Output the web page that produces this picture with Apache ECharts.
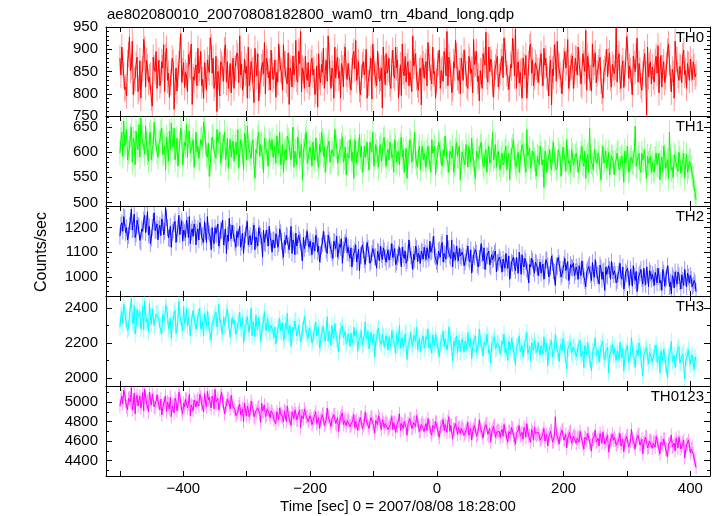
<!DOCTYPE html>
<html>
<head>
<meta charset="utf-8">
<script src="https://cdn.jsdelivr.net/npm/echarts@6/dist/echarts.min.js"></script>
<style>
html,body{margin:0;padding:0;background:#fff;}
#chart{width:717px;height:516px;}
</style>
</head>
<body>
<div id="chart"></div>
<script>
// ---- data ----
// "A" samples: every 3 s from -500 s; "B" samples: every 3 s from -498.5 s (rows = 60 s)
const T_START = -500;
const T_STEP = 3;
const T_OFFSET_B = 1.5;

const TH0 = [
880,905,842,815,870,928,860,798,835,882,812,790,856,900,875,826,842,772,858,895,
848,818,872,910,884,830,792,846,870,825,806,868,935,852,814,840,888,862,776,830,
865,902,856,818,790,842,876,848,905,880,822,760,836,872,855,898,826,812,868,845,
812,858,884,930,866,824,846,790,818,872,855,902,840,784,828,870,915,880,836,808,
862,840,792,826,878,850,910,868,822,776,848,885,856,832,895,940,858,812,842,870,
825,880,855,806,770,838,866,902,850,828,884,812,846,905,872,835,790,858,882,845,
868,826,852,895,920,848,810,836,872,858,790,824,880,912,846,818,862,835,768,856,
890,855,822,868,842,905,876,828,796,850,884,862,818,845,930,872,836,808,858,880,
835,872,915,860,822,845,790,866,898,852,828,874,940,882,846,812,858,886,830,800,
862,898,845,812,876,855,922,868,828,784,850,890,864,838,905,878,822,846,872,815,
850,884,925,870,836,812,858,895,946,866,824,852,880,842,790,868,912,876,838,860,
826,870,845,902,880,832,856,775,840,884,918,862,830,848,895,870,812,858,885,842,
878,905,852,818,868,942,884,836,806,860,892,846,872,828,790,856,900,874,835,866,
845,948,880,832,858,814,872,905,862,826,884,850,925,868,818,846,890,752,838,872,
860,826,884,908,852,815,872,838,895,870,804,846,918,876,830,858,885,842,812,866,
878,832,860,846
];
const TH0_B = [
842,868,810,795,888,852,918,830,866,805,874,845,922,815,860,838,790,882,850,812,
875,830,858,805,902,846,826,880,765,858,842,898,826,870,848,805,866,912,838,852,
818,846,895,832,870,808,858,926,846,812,884,850,795,866,828,910,872,835,802,880,
856,892,825,842,808,878,862,905,834,852,780,866,890,822,860,845,800,872,850,898,
832,876,848,912,855,808,866,830,892,858,815,842,920,826,868,804,850,884,830,815,
870,842,798,862,890,825,848,812,875,930,846,858,790,835,882,850,868,815,905,832,
842,808,885,856,830,872,798,864,842,900,825,856,788,870,842,896,828,858,905,820,
846,880,812,898,835,858,790,865,912,840,826,872,848,805,862,890,820,852,775,868,
862,818,880,836,905,850,828,870,812,856,895,840,818,866,802,872,920,836,852,880,
830,872,818,884,845,802,866,895,840,852,812,875,938,826,850,870,792,860,884,838,
872,836,898,845,810,866,925,840,812,872,848,790,862,886,830,905,846,818,870,852,
852,890,818,864,838,795,876,855,910,828,866,842,800,875,858,922,835,862,812,880,
842,868,822,890,850,808,862,836,912,870,825,858,882,806,848,870,838,892,815,858,
860,826,890,812,874,846,928,835,852,798,868,885,826,852,808,872,845,905,864,822,
838,872,846,802,886,858,825,866,912,836,855,790,878,842,862,825,898,852,868,830,
855,872,838
];

const TH1 = [
598,640,662,620,585,608,650,628,575,612,655,668,630,596,618,582,640,605,660,625,
590,622,648,600,565,615,642,658,610,585,628,600,648,575,620,655,632,598,612,570,
640,612,585,628,660,618,590,552,605,632,600,645,622,578,610,640,595,568,625,610,
582,620,645,598,612,565,630,652,604,588,625,548,598,640,615,590,628,605,572,618,
625,600,578,612,640,590,560,605,632,615,585,650,602,575,620,598,545,612,640,588,
610,572,598,628,585,615,640,592,560,605,622,580,598,645,610,575,602,630,588,555,
600,625,582,548,610,598,635,612,575,590,620,565,605,640,588,602,570,615,595,630,
572,605,620,590,560,612,598,575,630,605,585,548,600,618,592,640,578,600,565,612,
598,570,612,588,625,600,555,590,615,580,605,632,585,560,598,612,575,620,590,545,
600,582,615,570,595,628,585,548,605,590,620,575,598,560,612,585,640,592,570,602,
565,598,580,612,590,545,605,625,578,592,560,600,615,575,645,590,568,602,585,552,
590,612,575,530,598,582,605,565,620,588,570,598,552,610,585,625,578,560,595,572,
598,560,585,612,572,548,595,648,580,565,602,578,590,545,612,585,568,600,575,590,
555,585,600,570,592,540,578,612,565,590,580,652,570,598,560,585,605,548,578,592,
580,560,598,572,545,590,612,568,585,640,565,550,592,575,600,558,582,548,595,570,
585,555,530,505
];
const TH1_B = [
625,592,612,645,600,632,580,620,642,605,590,628,612,652,598,635,585,615,628,600,
618,640,595,612,630,582,605,625,648,600,572,618,635,598,612,590,642,605,625,598,
600,588,625,612,645,595,618,575,630,602,588,620,640,595,612,585,628,605,590,622,
610,595,568,625,600,638,585,612,598,620,575,605,630,592,618,560,612,598,625,605,
590,612,632,598,575,615,600,585,625,598,612,570,605,630,588,615,602,625,578,600,
598,620,585,605,570,600,625,612,588,615,580,605,592,625,578,602,615,580,610,598,
588,610,600,625,578,605,590,560,612,598,585,620,600,572,615,590,608,582,625,592,
600,585,610,595,625,580,602,615,590,560,608,592,625,580,605,590,570,612,598,585,
585,602,590,560,598,612,585,620,600,572,592,610,578,602,588,560,605,592,612,580,
592,575,600,612,580,595,560,602,588,612,590,570,605,595,578,602,585,615,598,575,
590,575,602,565,598,585,612,590,570,600,582,615,595,560,592,608,580,598,570,592,
575,598,585,602,560,590,578,600,585,565,605,592,578,598,562,590,582,605,575,592,
585,570,598,578,602,588,560,590,575,605,582,598,565,592,578,602,585,555,592,580,
580,598,565,588,575,602,590,560,585,578,600,572,590,565,598,582,570,592,585,560,
565,588,575,598,580,560,592,575,548,585,570,595,578,562,588,572,598,575,560,582,
570,548,520
];

const TH2 = [
1165,1220,1245,1180,1150,1210,1275,1195,1160,1230,1205,1140,1185,1250,1215,1170,1135,1200,1260,1190,
1150,1210,1235,1170,1282,1200,1155,1120,1190,1225,1175,1250,1205,1145,1180,1230,1160,1135,1195,1215,
1130,1195,1220,1160,1140,1185,1245,1175,1110,1150,1200,1170,1125,1190,1230,1160,1095,1145,1180,1210,
1175,1120,1160,1205,1140,1095,1170,1225,1155,1130,1185,1110,1150,1200,1165,1080,1140,1190,1125,1160,
1100,1150,1175,1120,1195,1145,1080,1130,1165,1110,1205,1150,1090,1125,1170,1140,1065,1115,1160,1135,
1145,1090,1130,1170,1100,1060,1125,1185,1135,1095,1150,1110,1075,1140,1165,1105,1120,1055,1130,1160,
1120,1075,1040,1095,1130,1060,1025,1085,1110,1050,1140,1090,1065,1115,1080,1035,1100,1125,1070,1105,
1060,1110,1075,1135,1095,1050,1080,1120,1040,1090,1105,1065,1150,1085,1030,1070,1115,1095,1055,1100,
1120,1070,1095,1145,1105,1165,1080,1050,1110,1130,1060,1090,1170,1115,1075,1040,1095,1125,1065,1085,
1100,1045,1080,1125,1060,1015,1090,1110,1050,1075,1135,1065,1030,1085,1105,1040,1070,1095,1020,1060,
1070,1020,1055,1095,1035,990,1060,1080,1025,1045,1100,1010,1050,1075,1030,975,1040,1065,1015,1055,
1005,1060,1035,990,1070,1045,1010,1085,1025,965,1040,1055,1000,1030,1075,1020,985,1050,1035,1005,
1040,990,1025,1065,1000,960,1030,1050,985,1015,1070,1005,970,1035,1020,945,1010,1045,990,1025,
1025,975,1010,1055,990,950,1020,1035,965,1000,1045,985,940,1005,1030,970,995,1040,960,1015,
1010,965,1000,1035,975,945,1015,990,1045,960,930,995,1020,970,1005,950,985,1030,960,1000,
1005,960,985,940
];
const TH2_B = [
1210,1185,1240,1200,1168,1225,1190,1255,1175,1210,1148,1195,1232,1180,1265,1205,1158,1225,1188,1215,
1195,1168,1220,1185,1240,1158,1205,1180,1215,1140,1198,1172,1228,1190,1160,1210,1245,1182,1165,1200,
1180,1150,1205,1168,1225,1140,1185,1162,1200,1135,1175,1215,1150,1188,1130,1195,1170,1238,1155,1178,
1140,1185,1158,1120,1178,1150,1198,1130,1168,1145,1210,1162,1125,1175,1148,1190,1135,1160,1205,1145,
1150,1118,1165,1135,1180,1105,1148,1170,1128,1155,1095,1140,1178,1125,1150,1098,1160,1132,1185,1120,
1118,1140,1105,1158,1125,1090,1135,1150,1108,1170,1128,1098,1145,1115,1080,1132,1155,1110,1140,1098,
1095,1118,1082,1105,1060,1112,1088,1130,1070,1098,1115,1055,1095,1120,1082,1105,1065,1090,1118,1078,
1090,1068,1102,1078,1115,1060,1095,1082,1120,1075,1055,1098,1110,1070,1092,1125,1062,1085,1105,1072,
1095,1118,1075,1100,1130,1088,1062,1105,1080,1140,1095,1072,1110,1085,1150,1100,1068,1092,1115,1078,
1085,1060,1098,1072,1110,1055,1082,1098,1040,1078,1092,1118,1062,1085,1048,1090,1075,1105,1058,1080,
1050,1072,1035,1060,1085,1028,1055,1042,1078,1015,1058,1090,1040,1062,1020,1050,1075,1035,1060,1040,
1038,1015,1052,1025,1068,1000,1040,1058,1018,1045,1080,1030,1012,1050,1025,1062,1002,1038,1055,1020,
1022,1045,1005,1030,985,1020,1042,1010,1058,998,1028,1012,1048,990,1025,1040,1002,1030,1062,1008,
1010,985,1025,1000,1040,975,1012,990,1030,962,1005,1022,985,1015,992,1035,968,1008,1025,990,
995,1018,975,1002,985,1030,962,998,1012,978,1005,955,992,1020,980,1008,965,995,1015,975,
990,965,975
];

const TH3 = [
2290,2380,2420,2330,2270,2360,2455,2310,2250,2390,2345,2280,2410,2440,2320,2265,2350,2395,2300,2365,
2370,2290,2250,2340,2415,2360,2300,2225,2330,2385,2280,2440,2345,2270,2310,2395,2350,2240,2320,2375,
2280,2350,2400,2300,2240,2330,2380,2265,2215,2310,2360,2290,2420,2335,2250,2300,2370,2325,2230,2345,
2330,2250,2310,2375,2280,2200,2300,2350,2260,2400,2320,2235,2290,2345,2210,2305,2380,2270,2315,2255,
2300,2230,2195,2280,2340,2260,2215,2310,2370,2250,2180,2290,2325,2240,2300,2205,2275,2350,2260,2225,
2280,2200,2260,2320,2230,2170,2250,2295,2210,2350,2265,2185,2240,2310,2220,2150,2270,2300,2235,2195,
2250,2180,2215,2290,2240,2150,2210,2270,2195,2320,2235,2165,2260,2200,2120,2230,2285,2205,2250,2175,
2240,2160,2200,2270,2225,2140,2190,2300,2215,2170,2250,2105,2205,2260,2180,2235,2290,2195,2150,2220,
2170,2235,2280,2200,2140,2215,2250,2185,2120,2205,2265,2225,2160,2290,2210,2095,2180,2240,2200,2150,
2220,2150,2195,2260,2175,2110,2205,2240,2160,2280,2190,2125,2215,2250,2140,2085,2200,2235,2170,2195,
2140,2210,2250,2170,2100,2190,2225,2150,2075,2185,2240,2160,2120,2205,2260,2155,2095,2180,2215,2145,
2200,2130,2165,2235,2150,2070,2180,2215,2120,2250,2160,2095,2190,2225,2140,2050,2170,2205,2135,2180,
2120,2180,2215,2140,2060,2160,2200,2110,2040,2150,2230,2130,2090,2175,2210,2100,2155,2030,2145,2190,
2170,2100,2140,2205,2115,2040,2150,2185,2090,2230,2130,2060,2160,2200,2110,2010,2125,2175,2080,2145,
2090,2150,2190,2110,2030,2130,2165,2075,2000,2120,2210,2100,2060,2145,2180,2085,2135,1995,2115,2160,
2080,2130,2050,2095
];
const TH3_B = [
2355,2310,2395,2340,2285,2370,2325,2415,2300,2350,2380,2315,2275,2360,2335,2425,2310,2345,2290,2370,
2335,2300,2365,2320,2395,2280,2340,2310,2372,2255,2330,2355,2300,2410,2325,2295,2350,2318,2385,2305,
2315,2345,2280,2320,2365,2295,2330,2250,2310,2340,2375,2290,2318,2268,2345,2300,2395,2325,2285,2310,
2300,2270,2325,2290,2345,2260,2315,2285,2330,2240,2295,2360,2275,2305,2250,2320,2290,2340,2265,2300,
2265,2290,2245,2300,2270,2315,2230,2280,2255,2300,2240,2275,2330,2260,2290,2225,2270,2305,2250,2285,
2250,2215,2270,2240,2290,2200,2255,2235,2275,2210,2245,2300,2225,2260,2195,2240,2280,2230,2265,2210,
2230,2255,2200,2240,2270,2210,2235,2185,2245,2225,2265,2195,2230,2250,2205,2270,2220,2190,2240,2215,
2205,2235,2180,2225,2190,2250,2215,2170,2230,2200,2260,2185,2220,2195,2245,2210,2160,2225,2200,2240,
2195,2220,2170,2210,2245,2185,2215,2160,2200,2230,2180,2225,2195,2250,2175,2210,2190,2140,2215,2200,
2185,2210,2160,2195,2230,2175,2200,2145,2190,2220,2170,2205,2185,2240,2160,2195,2215,2165,2200,2180,
2170,2195,2145,2180,2210,2160,2190,2135,2175,2205,2150,2185,2170,2220,2140,2180,2200,2155,2185,2165,
2160,2185,2135,2170,2200,2145,2175,2120,2165,2195,2140,2175,2155,2210,2130,2165,2190,2145,2175,2150,
2145,2170,2120,2155,2185,2130,2160,2105,2150,2180,2125,2160,2140,2195,2115,2150,2175,2130,2160,2135,
2130,2155,2105,2140,2170,2115,2145,2090,2135,2165,2110,2145,2125,2180,2100,2135,2160,2115,2145,2120,
2115,2140,2090,2125,2155,2100,2130,2075,2120,2150,2095,2130,2110,2165,2085,2120,2145,2100,2130,2105,
2110,2085,2120
];

const TH0123 = [
4960,5060,5120,5010,4920,5040,5150,4980,4880,5070,5020,4940,5100,5130,4990,4900,5030,5080,4950,5010,
5010,4920,4870,4980,5060,5000,4930,4850,4970,5040,4910,5100,4990,4880,4950,5030,4980,4860,4960,5020,
4950,5030,5080,4980,4900,5000,5110,5050,4940,5020,5130,4990,4920,5060,5010,4880,4970,5040,4930,4990,
4940,4860,4900,4980,4880,4800,4920,4960,4850,5010,4930,4830,4890,4950,4790,4910,4970,4870,4920,4840,
4900,4820,4780,4870,4940,4860,4800,4900,4960,4840,4760,4880,4920,4820,4890,4740,4860,4930,4850,4800,
4860,4770,4840,4900,4800,4730,4830,4880,4780,4940,4850,4750,4810,4870,4760,4700,4840,4890,4810,4760,
4830,4750,4790,4870,4800,4710,4780,4850,4760,4900,4820,4730,4840,4780,4680,4800,4860,4770,4820,4740,
4800,4720,4760,4850,4790,4690,4750,4880,4780,4730,4820,4660,4770,4830,4740,4800,4860,4760,4700,4790,
4700,4780,4830,4740,4660,4760,4800,4720,4640,4750,4820,4770,4690,4850,4760,4620,4720,4790,4740,4680,
4750,4660,4710,4790,4690,4610,4720,4770,4670,4820,4710,4630,4740,4780,4650,4590,4720,4760,4690,4710,
4640,4720,4770,4680,4590,4700,4740,4660,4570,4690,4760,4670,4620,4710,4780,4650,4590,4690,4740,4660,
4690,4610,4650,4730,4640,4550,4670,4710,4600,4850,4660,4570,4680,4720,4620,4530,4650,4700,4620,4660,
4580,4650,4700,4610,4520,4630,4680,4590,4500,4620,4710,4600,4550,4640,4690,4570,4620,4490,4610,4670,
4640,4560,4600,4680,4580,4490,4610,4660,4550,4720,4600,4520,4630,4670,4570,4470,4590,4650,4540,4610,
4530,4600,4650,4560,4470,4580,4620,4520,4440,4570,4660,4550,4500,4590,4640,4520,4580,4430,4560,4610,
4480,4540,4420,4330
];
const TH0123_B = [
5020,4980,5080,4950,5040,5000,4920,5090,5030,4960,5060,4990,4910,5050,5010,5100,4970,5030,4940,5070,
4990,5030,4940,5000,4900,4980,5050,4960,4890,5010,4970,5060,4920,4990,5030,4940,5080,4970,4910,5000,
5010,4960,5050,4990,5090,4950,5020,4980,5060,4930,5000,5040,4970,5100,4990,4940,5030,4980,5070,4960,
4920,4880,4950,4870,4930,4990,4860,4920,4890,4960,4850,4910,4940,4880,4990,4900,4850,4930,4880,4910,
4870,4840,4900,4820,4880,4850,4910,4800,4870,4840,4900,4830,4880,4810,4920,4860,4830,4890,4850,4820,
4830,4800,4860,4780,4840,4810,4870,4760,4820,4850,4790,4830,4870,4780,4840,4800,4860,4770,4830,4810,
4800,4760,4820,4740,4810,4780,4840,4730,4790,4820,4760,4800,4850,4750,4810,4770,4830,4720,4790,4780,
4780,4740,4800,4720,4790,4760,4810,4710,4770,4800,4740,4780,4830,4730,4790,4750,4810,4700,4770,4760,
4750,4710,4770,4690,4760,4730,4790,4680,4740,4770,4710,4750,4800,4700,4760,4720,4780,4670,4740,4730,
4720,4680,4740,4660,4730,4700,4760,4650,4710,4740,4680,4720,4770,4670,4730,4690,4750,4640,4710,4700,
4690,4650,4710,4630,4700,4670,4730,4620,4680,4710,4650,4690,4740,4640,4700,4660,4720,4610,4680,4670,
4660,4620,4680,4600,4670,4640,4700,4590,4650,4680,4620,4660,4710,4610,4670,4630,4690,4580,4650,4640,
4630,4590,4650,4570,4640,4610,4670,4560,4620,4650,4590,4630,4680,4580,4640,4600,4660,4550,4620,4610,
4610,4570,4630,4550,4620,4590,4650,4540,4600,4630,4570,4610,4660,4560,4620,4580,4640,4530,4600,4590,
4580,4540,4600,4520,4590,4560,4620,4510,4570,4600,4540,4580,4630,4530,4590,4550,4610,4500,4570,4560,
4520,4470,4400
];

// typical 1-sigma error bar half-length per panel (counts/sec)
const ERRORS = [29, 24, 34, 48, 70];

const SERIES_A = [TH0, TH1, TH2, TH3, TH0123];
const SERIES_B = [TH0_B, TH1_B, TH2_B, TH3_B, TH0123_B];
const PANEL_NAMES = ['TH0', 'TH1', 'TH2', 'TH3', 'TH0123'];
const COLORS = ['#ff0000', '#00ff00', '#0000ff', '#00ffff', '#ff00ff'];

// axis ranges / ticks
const X_MIN = -522, X_MAX = 431;
const X_TICK = 100, X_LABEL_STEP = 200;
const Y_MIN = [750, 493, 922, 1954, 4244];
const Y_MAX = [950, 672, 1288, 2468, 5164];
const Y_MAJOR = [50, 50, 100, 200, 200];
const Y_MINOR = [10, 10, 20, 100, 100];

const TITLE = 'ae802080010_20070808182800_wam0_trn_4band_long.qdp';
const X_NAME = 'Time [sec] 0 = 2007/08/08 18:28:00';
const Y_NAME = 'Counts/sec';

// ---- layout ----
const FONT = '"Liberation Sans", Arial, Helvetica, sans-serif';
const PLOT_LEFT = 106, PLOT_RIGHT = 7;
const TOPS = [27, 116, 206, 296, 386];
const HEIGHTS = [89, 90, 90, 90, 90];

function fmtNum(v) { return v < 0 ? '\u2212' + (-v) : String(v); }

// merge the two sample sets in time order
function buildPoints(a, b) {
  const pts = [];
  for (let k = 0; k < a.length; k++) {
    pts.push([T_START + k * T_STEP, a[k]]);
    if (k < b.length) pts.push([T_START + T_OFFSET_B + k * T_STEP, b[k]]);
  }
  return pts;
}

const chart = echarts.init(document.getElementById('chart'), null, {renderer: 'canvas'});

const grids = [], xAxes = [], yAxes = [], series = [], graphics = [];
const axisLineStyle = {color: '#000', width: 1};

for (let i = 0; i < 5; i++) {
  grids.push({left: PLOT_LEFT, right: PLOT_RIGHT, top: TOPS[i], height: HEIGHTS[i], containLabel: false});
  const isLast = i === 4;
  const xBase = {
    type: 'value', gridIndex: i, min: X_MIN, max: X_MAX,
    minInterval: X_TICK, maxInterval: X_TICK, splitNumber: 10,
    axisLine: {show: true, onZero: false, lineStyle: axisLineStyle},
    axisTick: {show: true, inside: true, length: 5, lineStyle: axisLineStyle},
    splitLine: {show: false}
  };
  xAxes.push(Object.assign({}, xBase, {
    position: 'bottom',
    axisLabel: {show: isLast, margin: 5, fontSize: 15, color: '#000', fontFamily: FONT,
      formatter: v => (Math.abs(v % X_LABEL_STEP) < 1e-6 ? fmtNum(v) : '')}
  }));
  xAxes.push(Object.assign({}, xBase, {position: 'top', axisLabel: {show: false}}));

  const yBase = {
    type: 'value', gridIndex: i, min: Y_MIN[i], max: Y_MAX[i], splitLine: {show: false}
  };
  yAxes.push(Object.assign({}, yBase, {
    position: 'left',
    minInterval: Y_MAJOR[i], maxInterval: Y_MAJOR[i], splitNumber: 5,
    axisLine: {show: true, onZero: false, lineStyle: axisLineStyle},
    axisTick: {show: true, inside: true, length: 6, lineStyle: axisLineStyle},
    axisLabel: {show: true, margin: 8, fontSize: 15, color: '#000', fontFamily: FONT,
      formatter: v => (Math.abs(v % Y_MAJOR[i]) < 1e-6 ? fmtNum(v) : '')}
  }));
  yAxes.push(Object.assign({}, yBase, {
    position: 'left',
    minInterval: Y_MINOR[i], maxInterval: Y_MINOR[i], splitNumber: 20,
    axisLine: {show: false, onZero: false},
    axisTick: {show: true, inside: true, length: 3, lineStyle: axisLineStyle},
    axisLabel: {show: false}
  }));
  yAxes.push(Object.assign({}, yBase, {
    position: 'right',
    minInterval: Y_MAJOR[i], maxInterval: Y_MAJOR[i], splitNumber: 5,
    axisLine: {show: true, onZero: false, lineStyle: axisLineStyle},
    axisTick: {show: true, inside: true, length: 6, lineStyle: axisLineStyle},
    axisLabel: {show: false}
  }));
  yAxes.push(Object.assign({}, yBase, {
    position: 'right',
    minInterval: Y_MINOR[i], maxInterval: Y_MINOR[i], splitNumber: 20,
    axisLine: {show: false, onZero: false},
    axisTick: {show: true, inside: true, length: 3, lineStyle: axisLineStyle},
    axisLabel: {show: false}
  }));

  const color = COLORS[i];
  const pts = buildPoints(SERIES_A[i], SERIES_B[i]);
  const errData = pts.map(p => [p[0], p[1], ERRORS[i]]);

  // light error bars
  series.push({
    type: 'custom', xAxisIndex: 2 * i, yAxisIndex: 4 * i, data: errData,
    silent: true, animation: false, clip: true, z: 1,
    renderItem: function (params, api) {
      const x = api.value(0), y = api.value(1), e = api.value(2);
      const p1 = api.coord([x, y - e]);
      const p2 = api.coord([x, y + e]);
      return {
        type: 'line',
        shape: {x1: p1[0], y1: p1[1], x2: p2[0], y2: p2[1]},
        style: {stroke: color, lineWidth: 1, opacity: 0.4}
      };
    }
  });
  series.push({
    type: 'line', xAxisIndex: 2 * i, yAxisIndex: 4 * i, data: pts,
    showSymbol: false, silent: true, animation: false, z: 2,
    lineStyle: {color: color, width: 1}
  });

  graphics.push({
    type: 'text', x: 704, y: TOPS[i] + 11, z: 10,
    style: {text: PANEL_NAMES[i], align: 'right', verticalAlign: 'middle',
      fontSize: 15, fontFamily: FONT, fill: '#000'}
  });
}

graphics.push({
  type: 'text', x: 107, y: 15, z: 10,
  style: {text: TITLE, align: 'left', verticalAlign: 'middle', fontSize: 15, fontFamily: FONT, fill: '#000'}
});
graphics.push({
  type: 'text', x: 398, y: 507, z: 10,
  style: {text: X_NAME, align: 'center', verticalAlign: 'middle', fontSize: 15, fontFamily: FONT, fill: '#000'}
});
graphics.push({
  type: 'text', x: 42, y: 252, rotation: Math.PI / 2, z: 10,
  style: {text: Y_NAME, align: 'center', verticalAlign: 'middle', fontSize: 16, fontFamily: FONT, fill: '#000'}
});

chart.setOption({
  animation: false,
  backgroundColor: '#fff',
  grid: grids,
  xAxis: xAxes,
  yAxis: yAxes,
  series: series,
  graphic: graphics
});
</script>
</body>
</html>
